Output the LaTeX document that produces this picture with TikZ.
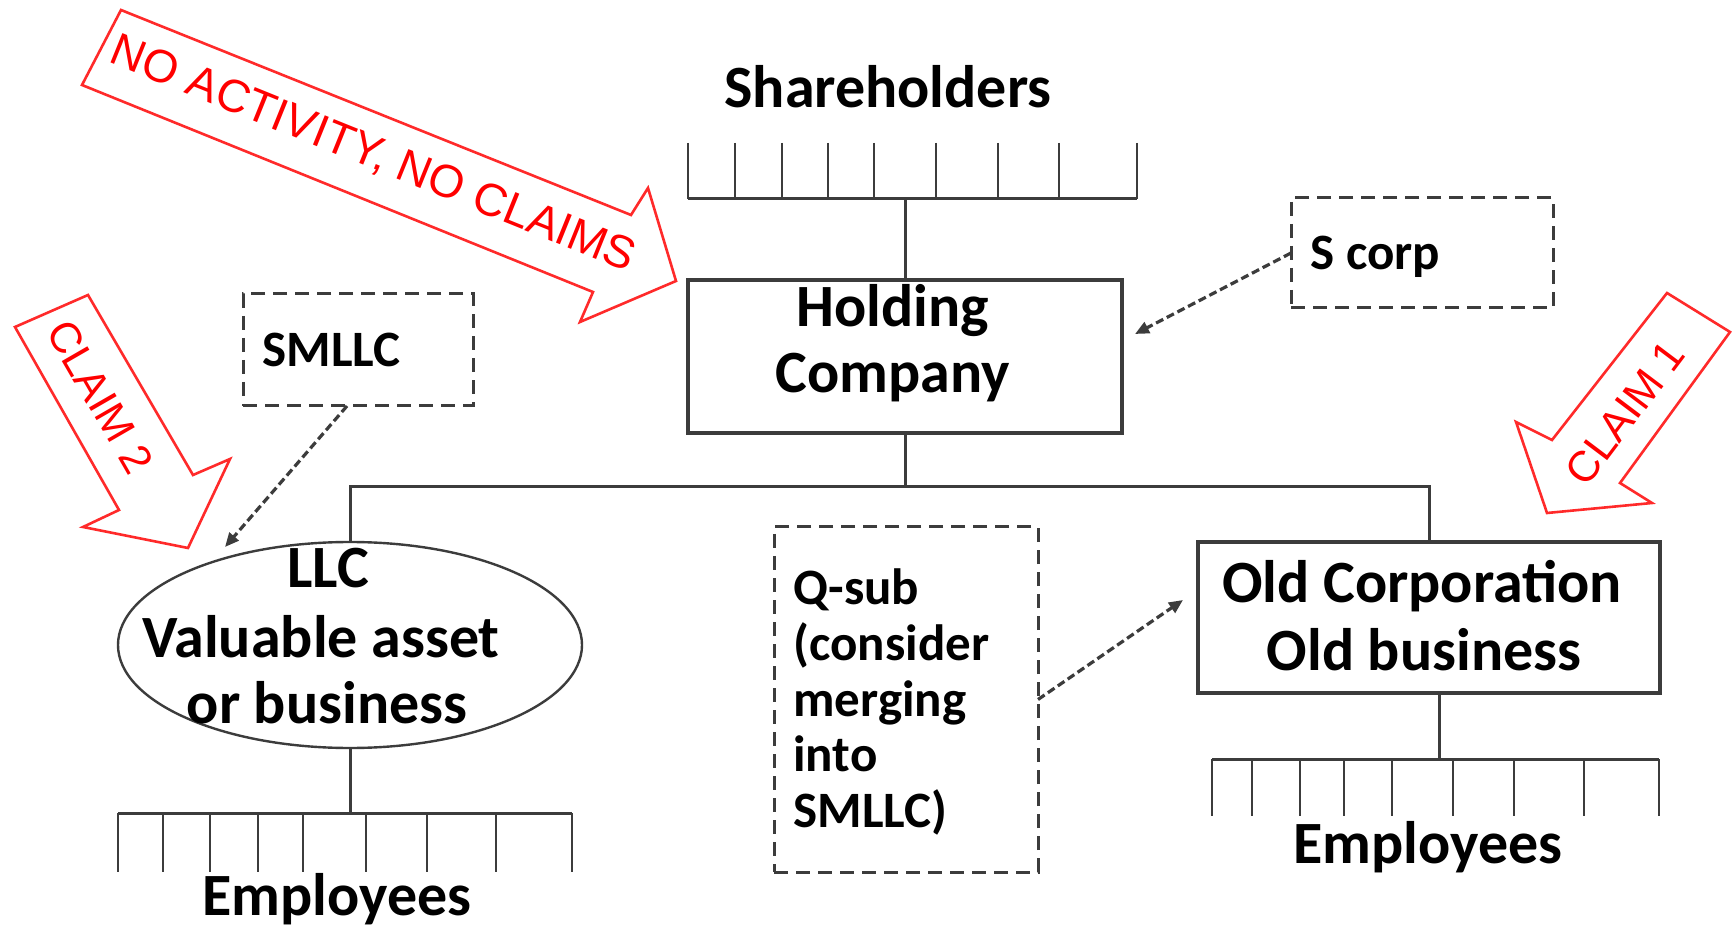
\documentclass[tikz,border=0pt]{standalone}
\usepackage{fontspec}
\setmainfont{Carlito}
\newfontfamily\redfont{Liberation Sans}
\usetikzlibrary{shapes.geometric,arrows.meta,calc}
\definecolor{linegray}{HTML}{3C3C3C}
\definecolor{redline}{HTML}{FF2A2A}
\begin{document}
\begin{tikzpicture}[x=0.5pt,y=-0.5pt,
  solidbox/.style={draw=linegray, line width=1.6pt, inner sep=0pt, outer sep=0pt},
  dashbox/.style={draw=linegray, line width=1.5pt, dash pattern=on 7pt off 4pt, inner sep=0pt, outer sep=0pt},
  conn/.style={draw=linegray, line width=1.5pt},
  tick/.style={draw=linegray, line width=1.1pt},
  darr/.style={draw=linegray, line width=1.6pt, dash pattern=on 4pt off 2pt, -{Triangle[length=7pt,width=6pt]}},
  big/.style={font=\fontsize{30}{34}\selectfont\bfseries, inner sep=0pt},
  mid/.style={font=\fontsize{25.5}{28}\selectfont\bfseries, inner sep=0pt},
  redarrow/.style={draw=redline, fill=white, line width=1.3pt, line join=miter},
  redtext/.style={text=red, font=\redfont\fontsize{23}{26}\selectfont, inner sep=0pt}
]
\useasboundingbox[fill=white] (0,0) rectangle (1732,929);

% red block arrows
\draw[redarrow] (121,10) -- (631,215) -- (648,188) -- (676,281) -- (580,322) -- (593,292) -- (82,85) -- cycle;
\node[redtext, rotate=-22] (tno) at (373,155) {NO ACTIVITY, NO CLAIMS};
\draw[redarrow] (1667,293) -- (1730,332) -- (1620,483) -- (1652,503) -- (1547,513) -- (1516,422) -- (1552,440) -- cycle;
\node[redtext, font=\redfont\fontsize{21.5}{24}\selectfont, rotate=53] (tc1) at (1625,413) {CLAIM 1};
\draw[redarrow] (15,327) -- (88,295) -- (193,475) -- (230,459) -- (188,548) -- (83,527) -- (119,510) -- cycle;
\node[redtext, font=\redfont\fontsize{21.5}{24}\selectfont, rotate=-60] (tc2) at (100,397) {CLAIM 2};

% shapes
\node[solidbox, minimum width=217pt, minimum height=76.5pt] (holding) at (905,356.5) {};
\node[solidbox, minimum width=231pt, minimum height=75.5pt] (oldcorp) at (1429,617.5) {};
\node[solidbox, line width=1.2pt, ellipse, minimum width=232pt, minimum height=103pt] (llc) at (350,645) {};
\node[dashbox, minimum width=115pt, minimum height=56pt] (smllc) at (358,350) {};
\node[dashbox, minimum width=131pt, minimum height=55pt] (scorp) at (1422,253) {};
\node[dashbox, minimum width=132pt, minimum height=172.5pt] (qsub) at (906,699.5) {};

% texts
\node[big, anchor=base] (tsh) at (888,108) {Shareholders};
\node[big, anchor=base] (th1) at (893,327) {Holding};
\node[big, anchor=base] (th2) at (893,393) {Company};
\node[big, anchor=base] (tl1) at (328,588) {LLC};
\node[big, anchor=base] (tl2) at (321,657) {Valuable asset};
\node[big, anchor=base] (tl3) at (327,723) {or business};
\node[big, anchor=base] (te1) at (337,915) {Employees};
\node[big, anchor=base] (to1) at (1422,602) {Old Corporation};
\node[big, anchor=base] (to2) at (1424,670) {Old business};
\node[big, anchor=base] (te2) at (1428,863) {Employees};
\node[mid, anchor=base west] (tsm) at (262,367) {SMLLC};
\node[mid, anchor=base west] (tsc) at (1310,270) {S corp};
\node[mid, anchor=base west] (tq1) at (793,604) {Q-sub};
\node[mid, anchor=base west] (tq2) at (793,660) {(consider};
\node[mid, anchor=base west] (tq3) at (793,716) {merging};
\node[mid, anchor=base west] (tq4) at (793,771) {into};
\node[mid, anchor=base west] (tq5) at (793,827) {SMLLC)};

% shareholders comb
\coordinate (shtop) at (905,199);
\draw[conn] (688,199) -- (1137,199);
\foreach \x in {688,735,782,828,874,936,998,1059,1137} \draw[tick] (\x,143) -- (\x,199);
\draw[conn] (holding.north) -- (shtop);

% tree
\draw[conn] (holding.south) -- ++(0,54);
\draw[conn] (llc.north) -- ++(0,-55) -| (oldcorp.north);

% left employees comb
\coordinate (lbar) at (350,813);
\draw[conn] (llc.south) -- (lbar);
\draw[conn] (118,813) -- (572,813);
\foreach \x in {118,163,210,258,303,366,427,496,572} \draw[tick] (\x,813) -- (\x,872);

% right employees comb
\coordinate (rbar) at (1439,759);
\draw[conn] ($(oldcorp.south)+(10,0)$) -- (rbar);
\draw[conn] (1212,759) -- (1659,759);
\foreach \x in {1212,1252,1300,1344,1392,1453,1514,1584,1659} \draw[tick] (\x,759) -- (\x,816);

% dashed arrows
\coordinate (llctip) at (225,547);
\draw[darr] ($(smllc.south)+(-11,0)$) -- (llctip);
\coordinate (holdtip) at (1135,334);
\draw[darr] (scorp.west) -- (holdtip);
\coordinate (oldtip) at (1183,600);
\draw[darr] (qsub.east) -- (oldtip);
\end{tikzpicture}
\end{document}
